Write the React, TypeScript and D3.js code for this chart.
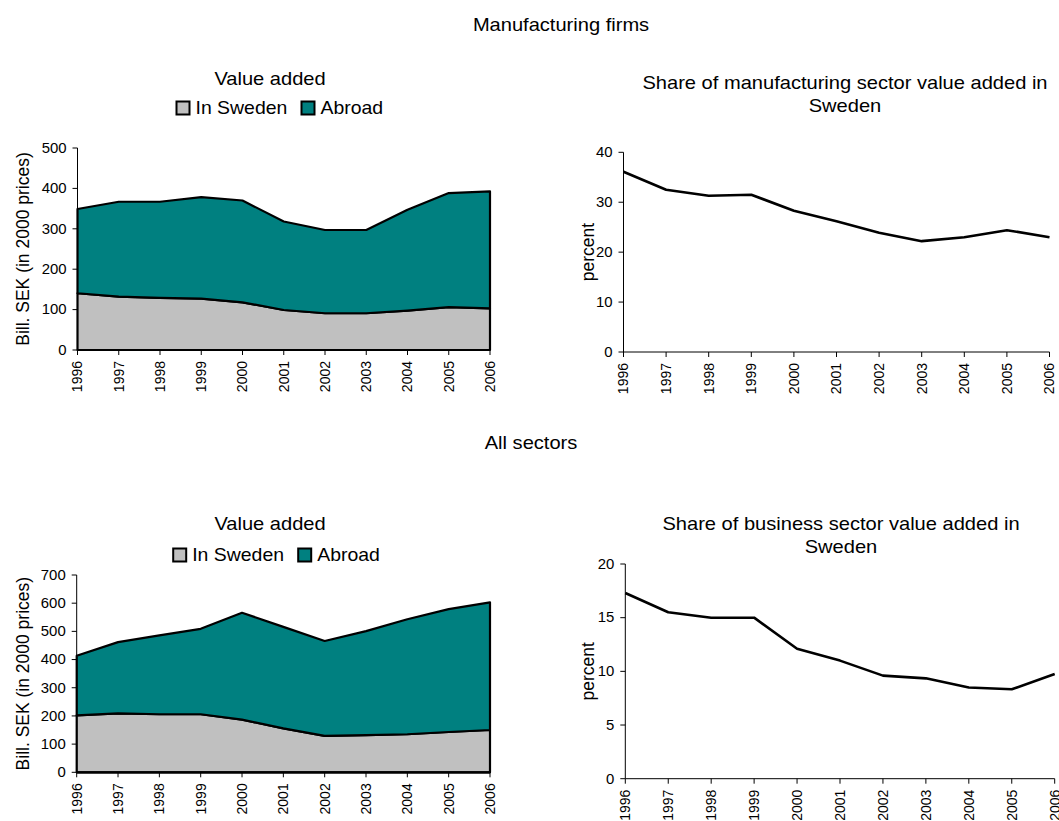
import React from "react";
import * as d3 from "d3";

const years = [1996, 1997, 1998, 1999, 2000, 2001, 2002, 2003, 2004, 2005, 2006];

// Manufacturing firms, value added (bill. SEK, 2000 prices)
const mfgInSweden = [140.5, 132, 129, 127, 118, 99, 91, 91, 97.5, 106, 103];
const mfgAbroad = [208.5, 235, 238, 251.5, 252, 219, 206, 206, 249.5, 282.5, 289.5];
// Share of manufacturing sector value added in Sweden (percent)
const mfgShare = [36.1, 32.5, 31.3, 31.5, 28.3, 26.2, 23.9, 22.2, 23.0, 24.4, 23.0];

// All sectors, value added
const allInSweden = [202, 209, 206, 206, 187, 156, 129, 132, 135, 143, 150];
const allAbroad = [211.5, 253, 280, 303, 379, 360, 337, 369, 408, 436, 453];
// Share of business sector value added in Sweden (percent)
const allShare = [17.3, 15.5, 15.0, 15.0, 12.1, 11.0, 9.6, 9.35, 8.5, 8.33, 9.75];

const mfgValueTicks = [0, 100, 200, 300, 400, 500];
const mfgShareTicks = [0, 10, 20, 30, 40];
const allValueTicks = [0, 100, 200, 300, 400, 500, 600, 700];
const allShareTicks = [0, 5, 10, 15, 20];

const seriesNames = ["In Sweden", "Abroad"];
const seriesColors = ["#C0C0C0", "#008080"];

const FONT = "'Liberation Sans', Arial, Helvetica, sans-serif";
const SX = 1.08;

function HText({ x, y, size, anchor = "middle", children }: any) {
  return (
    <text
      transform={`translate(${x},${y}) scale(${SX},1)`}
      fontSize={size}
      textAnchor={anchor}
      dominantBaseline="central"
      fontFamily={FONT}
      fill="#000"
    >
      {children}
    </text>
  );
}

function Axes({ x0, x1, yTop, yBot, yScale, xScale, ticks, yTitle, yTitleX }: any) {
  return (
    <g>
      <line x1={x0} x2={x0} y1={yTop} y2={yBot} stroke="#000" strokeWidth={1} />
      <line x1={x0} x2={x1} y1={yBot} y2={yBot} stroke="#000" strokeWidth={1} />
      {ticks.map((t: number) => (
        <g key={"y" + t}>
          <line x1={x0 - 5} x2={x0} y1={yScale(t)} y2={yScale(t)} stroke="#000" strokeWidth={1} />
          <HText x={x0 - 11} y={yScale(t)} size={13.8} anchor="end">
            {t}
          </HText>
        </g>
      ))}
      {years.map((yr) => (
        <g key={"x" + yr}>
          <line x1={xScale(yr)} x2={xScale(yr)} y1={yBot} y2={yBot + 5} stroke="#000" strokeWidth={1} />
          <text
            transform={`translate(${xScale(yr)},${yBot + 11}) rotate(-90)`}
            textAnchor="end"
            dy="0.35em"
            fontSize={14}
            fontFamily={FONT}
          >
            {yr}
          </text>
        </g>
      ))}
      <text
        transform={`translate(${yTitleX},${(yTop + yBot) / 2}) rotate(-90)`}
        textAnchor="middle"
        dominantBaseline="central"
        fontSize={17.5}
        fontFamily={FONT}
      >
        {yTitle}
      </text>
    </g>
  );
}

function AreaPanel({ x0, x1, yTop, yBot, ticks, sweden, abroad, legendX, legendY, titleX, titleY }: any) {
  const xScale = d3.scaleLinear().domain([years[0], years[years.length - 1]]).range([x0, x1]);
  const yScale = d3.scaleLinear().domain([0, ticks[ticks.length - 1]]).range([yBot, yTop]);
  const table = years.map((yr, i) => ({ year: yr, "In Sweden": sweden[i], Abroad: abroad[i] }));
  const stacked = d3.stack<any>().keys(seriesNames)(table);
  const area = d3
    .area<any>()
    .x((d) => xScale(d.data.year))
    .y0((d) => yScale(d[0]))
    .y1((d) => yScale(d[1]));
  return (
    <g>
      <HText x={titleX} y={titleY} size={18.6}>
        Value added
      </HText>
      {seriesNames.map((name, i) => {
        const bx = legendX + i * 125;
        return (
          <g key={name}>
            <rect x={bx} y={legendY - 6.5} width={13} height={13} fill={seriesColors[i]} stroke="#000" strokeWidth={2} />
            <HText x={bx + 19} y={legendY} size={18} anchor="start">
              {name}
            </HText>
          </g>
        );
      })}
      {stacked.map((s, i) => (
        <path key={i} d={area(s) || ""} fill={seriesColors[i]} stroke="#000" strokeWidth={2.2} strokeLinejoin="round" />
      ))}
      <Axes
        x0={x0}
        x1={x1}
        yTop={yTop}
        yBot={yBot}
        yScale={yScale}
        xScale={xScale}
        ticks={ticks}
        yTitle="Bill. SEK (in 2000 prices)"
        yTitleX={22.5}
      />
      <line x1={x0} x2={x1} y1={yBot} y2={yBot} stroke="#000" strokeWidth={2.2} />
    </g>
  );
}

function LinePanel({ x0, x1, yTop, yBot, ticks, values, title1, title2, titleX, titleY }: any) {
  const xScale = d3.scaleLinear().domain([years[0], years[years.length - 1]]).range([x0, x1]);
  const yScale = d3.scaleLinear().domain([0, ticks[ticks.length - 1]]).range([yBot, yTop]);
  const line = d3
    .line<number>()
    .x((_, i) => xScale(years[i]))
    .y((d) => yScale(d));
  return (
    <g>
      <HText x={titleX} y={titleY} size={18.6}>
        {title1}
      </HText>
      <HText x={titleX} y={titleY + 23} size={18.6}>
        {title2}
      </HText>
      <Axes
        x0={x0}
        x1={x1}
        yTop={yTop}
        yBot={yBot}
        yScale={yScale}
        xScale={xScale}
        ticks={ticks}
        yTitle="percent"
        yTitleX={587.5}
      />
      <path d={line(values) || ""} fill="none" stroke="#000" strokeWidth={2.6} strokeLinejoin="round" />
    </g>
  );
}

export default function App() {
  return (
    <svg
      width={1059}
      height={821}
      style={{ position: "absolute", left: 0, top: 0, background: "#fff" }}
    >
      <rect x={0} y={0} width={1059} height={821} fill="#fff" />
      <HText x={561} y={24} size={18.6}>
        Manufacturing firms
      </HText>
      <HText x={531} y={442} size={18.6}>
        All sectors
      </HText>
      <AreaPanel
        x0={77.5}
        x1={490}
        yTop={148}
        yBot={350}
        ticks={mfgValueTicks}
        sweden={mfgInSweden}
        abroad={mfgAbroad}
        legendX={176.5}
        legendY={108}
        titleX={270}
        titleY={78}
      />
      <LinePanel
        x0={623.5}
        x1={1049.5}
        yTop={152.3}
        yBot={352}
        ticks={mfgShareTicks}
        values={mfgShare}
        title1="Share of manufacturing sector value added in"
        title2="Sweden"
        titleX={845}
        titleY={82}
      />
      <AreaPanel
        x0={76.7}
        x1={490}
        yTop={575}
        yBot={772.3}
        ticks={allValueTicks}
        sweden={allInSweden}
        abroad={allAbroad}
        legendX={173.2}
        legendY={555}
        titleX={270}
        titleY={523}
      />
      <LinePanel
        x0={625.3}
        x1={1054.7}
        yTop={564}
        yBot={778.7}
        ticks={allShareTicks}
        values={allShare}
        title1="Share of business sector value added in"
        title2="Sweden"
        titleX={841}
        titleY={523}
      />
    </svg>
  );
}
